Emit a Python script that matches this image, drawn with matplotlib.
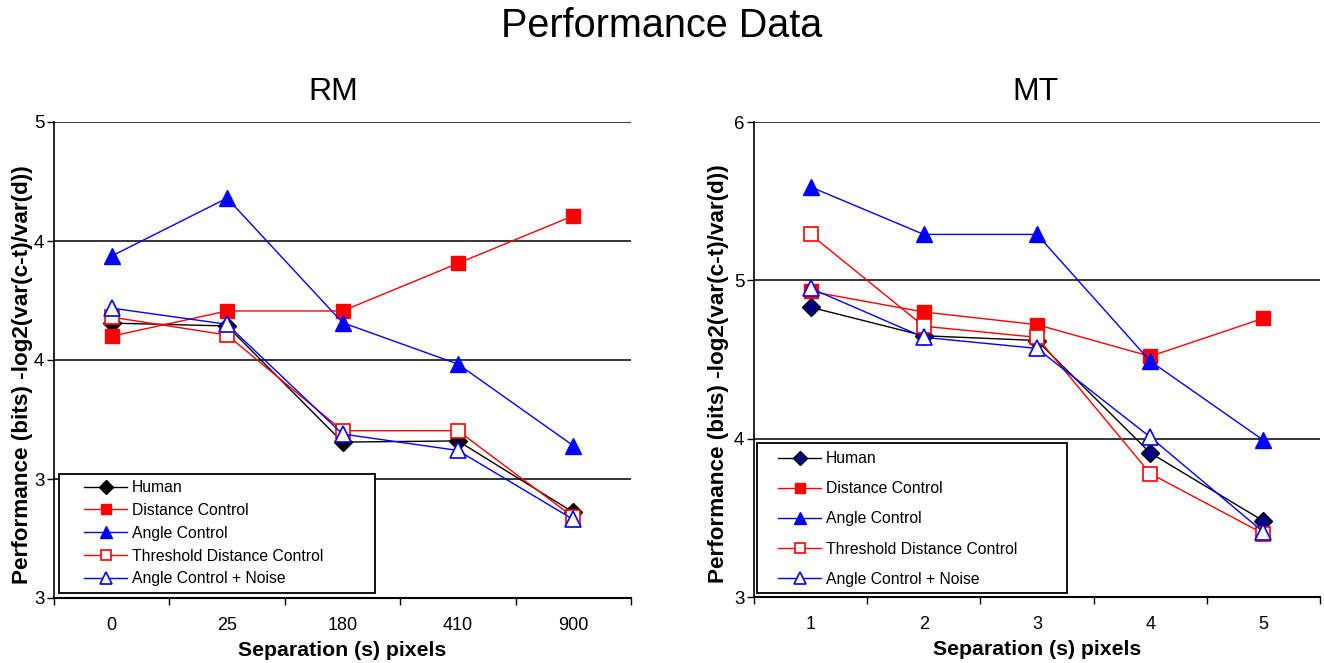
import matplotlib.pyplot as plt
from matplotlib.patches import Rectangle
from matplotlib.ticker import FixedLocator

plt.rcParams['font.family'] = ['Liberation Sans', 'DejaVu Sans']

# category labels
rm_sep = ['0', '25', '180', '410', '900']
mt_sep = ['1', '2', '3', '4', '5']

# RM panel
rm_human = [4.155, 4.143, 3.655, 3.66, 3.36]
rm_dist = [4.10, 4.206, 4.206, 4.406, 4.606]
rm_angle = [4.437, 4.68, 4.157, 3.983, 3.64]
rm_thresh = [4.18, 4.105, 3.703, 3.703, 3.34]
rm_noise = [4.218, 4.15, 3.689, 3.62, 3.33]
rm_yticks = [3, 3.5, 4, 4.5, 5]
rm_ylabels = ['3', '3', '4', '4', '5']

# MT panel
mt_human = [4.83, 4.65, 4.62, 3.91, 3.48]
mt_dist = [4.93, 4.80, 4.72, 4.52, 4.76]
mt_angle = [5.59, 5.29, 5.29, 4.49, 3.99]
mt_thresh = [5.29, 4.71, 4.64, 3.78, 3.40]
mt_noise = [4.95, 4.64, 4.57, 4.01, 3.41]
mt_yticks = [3, 4, 5, 6]
mt_ylabels = ['3', '4', '5', '6']

names = ['Human', 'Distance Control', 'Angle Control',
         'Threshold Distance Control', 'Angle Control + Noise']


def draw(ax, cats, series, yticks, ylabels, title, title_x, human_fill,
         ylab_x, box, leg_anchor, spacing):
    x = list(range(len(cats)))
    styles = [
        dict(color='black', marker='D', mfc=human_fill, mec='black', ms=9),
        dict(color='red', marker='s', mfc='red', mec='red', ms=10),
        dict(color='blue', marker='^', mfc='blue', mec='blue', ms=12),
        dict(color='red', marker='s', mfc='white', mec='red', ms=10, mew=1.2),
        dict(color='blue', marker='^', mfc='white', mec='blue', ms=12, mew=1.2),
    ]
    for vals, st, nm in zip(series, styles, names):
        ax.plot(x, vals, lw=1.0, label=nm, **st)

    ax.set_xlim(-0.5, len(cats) - 0.5)
    ax.set_ylim(yticks[0], yticks[-1])
    ax.set_xticks(x)
    ax.set_xticklabels(cats, fontsize=13)
    ax.tick_params(axis='x', which='major', length=0, pad=14)
    ax.xaxis.set_minor_locator(FixedLocator([i - 0.5 for i in range(len(cats) + 1)]))
    ax.tick_params(axis='x', which='minor', length=5, width=1, direction='out')
    ax.set_yticks(yticks)
    ax.set_yticklabels(ylabels, fontsize=13.5)
    ax.tick_params(axis='y', length=5, width=1, direction='out', pad=2)

    for yv in yticks[1:]:
        ax.axhline(yv, color='black', lw=1.1, zorder=0.5)
    for s in ['top', 'right']:
        ax.spines[s].set_visible(False)
    ax.spines['left'].set_linewidth(1.2)
    ax.spines['bottom'].set_linewidth(1.5)

    ax.set_title(title, fontsize=23, pad=16, x=title_x)
    ax.set_xlabel('Separation (s) pixels', fontsize=15.3, fontweight='bold', labelpad=5)
    ax.set_ylabel('Performance (bits) -log2(var(c-t)/var(d))', fontsize=16.2,
                  fontweight='bold')
    ax.yaxis.set_label_coords(ylab_x, 0.47)

    ax.add_patch(Rectangle(box[:2], box[2], box[3], transform=ax.transAxes,
                           facecolor='white', edgecolor='black', lw=1.3,
                           zorder=3, clip_on=False))
    leg = ax.legend(loc='upper left', bbox_to_anchor=leg_anchor, frameon=False,
                    fontsize=11.3, handlelength=2.75, handletextpad=0.3,
                    labelspacing=spacing, borderpad=0, borderaxespad=0,
                    markerscale=0.75)
    leg.set_zorder(4)


fig = plt.figure(figsize=(13.24, 6.63), dpi=100)
ax1 = fig.add_axes([54 / 1324, 65 / 663, 577 / 1324, 476 / 663])
ax2 = fig.add_axes([754 / 1324, 66 / 663, 566 / 1324, 475 / 663])

draw(ax1, rm_sep, [rm_human, rm_dist, rm_angle, rm_thresh, rm_noise],
     rm_yticks, rm_ylabels, 'RM', 0.4835, 'black', (33 - 54) / 577,
     (5 / 577, 5 / 476, 316 / 577, 119 / 476),
     ((84 - 54) / 577, (598 - 480) / 476), 0.5)
draw(ax2, mt_sep, [mt_human, mt_dist, mt_angle, mt_thresh, mt_noise],
     mt_yticks, mt_ylabels, 'MT', 0.498, '#000080', (729 - 754) / 566,
     (3 / 566, 4 / 475, 310 / 566, 150 / 475),
     ((778 - 754) / 566, (597 - 451) / 475), 0.97)

fig.suptitle('Performance Data', fontsize=28.5, y=0.99)

plt.savefig('out.png', dpi=100)
